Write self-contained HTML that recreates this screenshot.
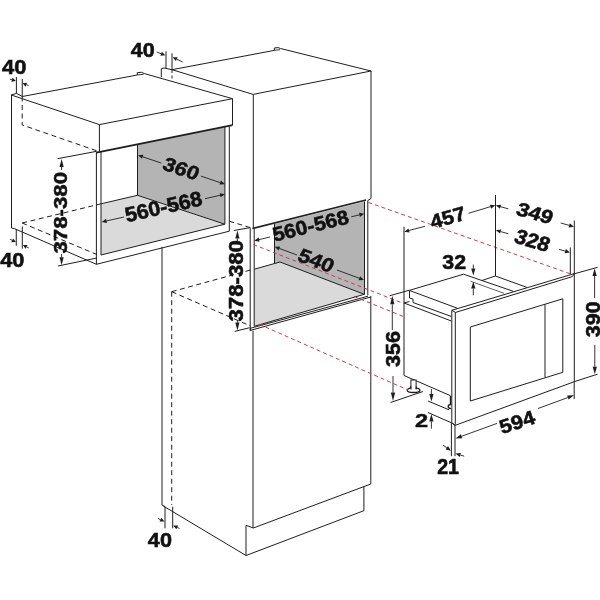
<!DOCTYPE html>
<html><head><meta charset="utf-8"><style>
html,body{margin:0;padding:0;background:#fff;}
svg{display:block;will-change:transform;}
text{font-family:"Liberation Sans",sans-serif;font-weight:bold;}
</style></head><body>
<svg width="600" height="600" viewBox="0 0 600 600">
<rect width="600" height="600" fill="#fff"/>
<polygon points="137.50,144.10 224.90,127.00 224.90,224.20 137.50,195.30" fill="#b4b4b4" stroke="none" stroke-width="0"/>
<polygon points="101.00,203.80 137.50,195.30 224.90,224.20 101.00,255.00" fill="#dadada" stroke="none" stroke-width="0"/>
<polyline points="11.30,95.00 16.50,93.40 22.30,96.50 137.30,75.00 137.30,72.60 141.50,72.30 144.20,73.50 232.50,98.70" fill="none" stroke="#1e1e1e" stroke-width="1.0"/>
<polyline points="137.30,74.90 143.60,74.30" fill="none" stroke="#1e1e1e" stroke-width="0.9"/>
<polyline points="11.30,95.00 99.40,124.60" fill="none" stroke="#1e1e1e" stroke-width="1.0"/>
<polyline points="99.40,124.60 232.50,98.70 232.50,125.00" fill="none" stroke="#1e1e1e" stroke-width="1.0"/>
<polyline points="99.40,124.60 99.40,152.30" fill="none" stroke="#1e1e1e" stroke-width="1.0"/>
<polyline points="96.40,152.60 232.50,125.20" fill="none" stroke="#1e1e1e" stroke-width="1.7"/>
<polyline points="11.50,95.00 11.50,228.00" fill="none" stroke="#1e1e1e" stroke-width="1.0"/>
<polyline points="96.40,152.00 96.40,264.30" fill="none" stroke="#1e1e1e" stroke-width="1.0"/>
<polyline points="101.00,151.50 101.00,255.00" fill="none" stroke="#1e1e1e" stroke-width="1.0"/>
<polyline points="224.90,127.00 224.90,224.20" fill="none" stroke="#1e1e1e" stroke-width="1.0"/>
<polyline points="229.30,126.30 229.30,231.20" fill="none" stroke="#1e1e1e" stroke-width="1.0"/>
<polyline points="137.50,144.10 137.50,195.30" fill="none" stroke="#1e1e1e" stroke-width="1.0"/>
<polyline points="101.00,203.80 137.50,195.30 224.90,224.20" fill="none" stroke="#1e1e1e" stroke-width="1.0"/>
<polyline points="101.00,255.00 224.90,224.20" fill="none" stroke="#1e1e1e" stroke-width="1.0"/>
<polyline points="11.50,228.00 14.60,228.70 96.40,264.30 229.30,231.20" fill="none" stroke="#1e1e1e" stroke-width="1.0"/>
<polyline points="22.20,96.50 22.20,125.00 96.70,150.80" fill="none" stroke="#1e1e1e" stroke-width="1.0" stroke-dasharray="5,3.5"/>
<polyline points="22.20,223.00 96.70,254.50" fill="none" stroke="#1e1e1e" stroke-width="1.0" stroke-dasharray="5,3.5"/>
<polyline points="22.20,223.00 101.00,203.80" fill="none" stroke="#1e1e1e" stroke-width="1.0" stroke-dasharray="5,3.5"/>
<polyline points="229.20,221.20 250.00,227.50" fill="none" stroke="#1e1e1e" stroke-width="1.0" stroke-dasharray="5,3.5"/>
<polygon points="274.50,224.00 364.50,201.50 364.50,294.50 280.00,262.00 274.50,263.50" fill="#b4b4b4" stroke="none" stroke-width="0"/>
<polygon points="254.20,269.20 280.00,262.00 364.30,294.30 254.30,326.25" fill="#dadada" stroke="none" stroke-width="0"/>
<polyline points="161.30,77.30 161.30,68.70 164.00,68.00 172.00,69.70 274.30,50.40 274.30,48.00 278.00,47.60 280.50,48.50 371.00,71.00" fill="none" stroke="#1e1e1e" stroke-width="1.0"/>
<polyline points="274.30,50.30 280.00,49.70" fill="none" stroke="#1e1e1e" stroke-width="0.9"/>
<polyline points="172.00,69.70 172.00,70.00" fill="none" stroke="#1e1e1e" stroke-width="1.0"/>
<polyline points="172.00,69.70 253.10,94.40 371.00,71.00 371.00,198.50 367.80,200.50" fill="none" stroke="#1e1e1e" stroke-width="1.0"/>
<polyline points="253.30,94.40 253.30,228.30" fill="none" stroke="#1e1e1e" stroke-width="1.0"/>
<polyline points="254.20,228.30 254.20,326.30" fill="none" stroke="#1e1e1e" stroke-width="1.0"/>
<polyline points="253.00,330.60 253.00,528.00" fill="none" stroke="#1e1e1e" stroke-width="1.0"/>
<polyline points="162.00,246.80 162.00,505.00" fill="none" stroke="#1e1e1e" stroke-width="1.0"/>
<polyline points="252.50,228.50 366.00,200.00" fill="none" stroke="#1e1e1e" stroke-width="1.6"/>
<polyline points="250.20,227.50 250.20,330.80" fill="none" stroke="#1e1e1e" stroke-width="1.0"/>
<polyline points="364.50,201.50 364.50,294.50" fill="none" stroke="#1e1e1e" stroke-width="1.0"/>
<polyline points="367.80,200.50 367.80,295.30" fill="none" stroke="#1e1e1e" stroke-width="1.0"/>
<polyline points="274.50,224.00 274.50,263.50" fill="none" stroke="#1e1e1e" stroke-width="1.0"/>
<polyline points="254.20,269.20 280.00,262.00 364.30,294.30" fill="none" stroke="#1e1e1e" stroke-width="1.0"/>
<polyline points="254.30,326.25 364.30,294.30" fill="none" stroke="#1e1e1e" stroke-width="1.0"/>
<polyline points="250.40,328.30 368.00,296.20" fill="none" stroke="#1e1e1e" stroke-width="1.0"/>
<polyline points="250.40,330.40 370.80,297.00" fill="none" stroke="#1e1e1e" stroke-width="1.0"/>
<polyline points="250.40,327.60 250.40,330.80" fill="none" stroke="#1e1e1e" stroke-width="1.0"/>
<polyline points="370.80,296.00 370.80,484.00" fill="none" stroke="#1e1e1e" stroke-width="1.0"/>
<polyline points="162.00,505.00 165.00,506.50" fill="none" stroke="#1e1e1e" stroke-width="1.0"/>
<polyline points="163.30,506.00 246.00,555.50" fill="none" stroke="#1e1e1e" stroke-width="1.0"/>
<polyline points="246.00,525.30 246.00,555.50 363.90,510.70 363.90,486.60" fill="none" stroke="#1e1e1e" stroke-width="1.0"/>
<polyline points="246.00,525.30 253.30,528.00 370.80,484.00" fill="none" stroke="#1e1e1e" stroke-width="1.0"/>
<polyline points="171.70,291.70 171.70,505.00" fill="none" stroke="#1e1e1e" stroke-width="1.0" stroke-dasharray="5,3.5"/>
<polyline points="171.70,291.70 250.60,270.00" fill="none" stroke="#1e1e1e" stroke-width="1.0" stroke-dasharray="5,3.5"/>
<polyline points="171.70,291.70 250.60,326.00" fill="none" stroke="#1e1e1e" stroke-width="1.0" stroke-dasharray="5,3.5"/>
<polyline points="172.00,70.00 172.00,80.70" fill="none" stroke="#1e1e1e" stroke-width="1.0" stroke-dasharray="3,2.5"/>
<polyline points="451.80,310.30 574.30,273.60" fill="none" stroke="#1e1e1e" stroke-width="1.0"/>
<polyline points="455.30,312.50 572.30,276.60" fill="none" stroke="#1e1e1e" stroke-width="1.0"/>
<polyline points="451.80,310.30 455.30,312.30" fill="none" stroke="#1e1e1e" stroke-width="1.0"/>
<polyline points="574.30,273.60 572.30,276.60" fill="none" stroke="#1e1e1e" stroke-width="1.0"/>
<polyline points="451.80,310.30 451.80,424.00" fill="none" stroke="#1e1e1e" stroke-width="1.0"/>
<polyline points="455.30,312.30 455.30,424.50" fill="none" stroke="#1e1e1e" stroke-width="1.0"/>
<polyline points="574.30,273.60 574.30,381.70" fill="none" stroke="#1e1e1e" stroke-width="1.0"/>
<polyline points="455.30,425.30 574.30,381.70" fill="none" stroke="#1e1e1e" stroke-width="1.0"/>
<polyline points="451.80,423.00 455.30,425.30" fill="none" stroke="#1e1e1e" stroke-width="1.0"/>
<polyline points="470.30,327.00 562.80,298.80 562.80,372.30 470.30,401.00 470.30,327.00" fill="none" stroke="#1e1e1e" stroke-width="1.0"/>
<polyline points="545.00,304.30 545.00,377.50" fill="none" stroke="#1e1e1e" stroke-width="1.0"/>
<polyline points="404.00,303.00 404.00,375.50 450.50,395.70" fill="none" stroke="#1e1e1e" stroke-width="1.0"/>
<polyline points="404.00,303.00 451.40,321.00" fill="none" stroke="#1e1e1e" stroke-width="1.0"/>
<polyline points="404.00,303.00 409.50,301.50" fill="none" stroke="#1e1e1e" stroke-width="1.0"/>
<polyline points="409.30,290.40 463.50,274.20 513.30,291.30" fill="none" stroke="#1e1e1e" stroke-width="1.0"/>
<polyline points="409.80,290.60 457.50,308.30" fill="none" stroke="#1e1e1e" stroke-width="1.0"/>
<polyline points="409.50,290.50 409.50,298.00 413.00,299.00 413.00,302.50 451.40,316.50" fill="none" stroke="#1e1e1e" stroke-width="1.0"/>
<polyline points="495.30,276.00 482.00,280.50" fill="none" stroke="#1e1e1e" stroke-width="1.0"/>
<polyline points="495.30,276.00 526.70,287.30" fill="none" stroke="#1e1e1e" stroke-width="1.0"/>
<polyline points="470.70,281.30 504.00,293.30" fill="none" stroke="#1e1e1e" stroke-width="0.7"/>
<rect x="410.9" y="380" width="5.2" height="9.5" fill="#fff" stroke="#1e1e1e" stroke-width="1"/>
<ellipse cx="413.6" cy="390.2" rx="6.3" ry="2.3" fill="#fff" stroke="#1e1e1e" stroke-width="1.4"/>
<rect x="411.4" y="386" width="4.2" height="3.4" fill="#fff"/>
<polyline points="410.90,386.00 410.90,389.50" fill="none" stroke="#1e1e1e" stroke-width="1"/>
<polyline points="416.10,386.00 416.10,389.50" fill="none" stroke="#1e1e1e" stroke-width="1"/>
<polyline points="450.50,396.00 450.50,408.50" fill="none" stroke="#1e1e1e" stroke-width="1.4"/>
<path d="M451.2,404.5 A2.8,1.9 0 1,0 451.2,408.6" fill="#fff" stroke="#1e1e1e" stroke-width="1.3"/>
<polyline points="368.30,202.40 570.00,273.70" fill="none" stroke="#cf3b50" stroke-width="1" stroke-dasharray="4,3"/>
<polyline points="253.30,244.50 403.60,303.50" fill="none" stroke="#cf3b50" stroke-width="1" stroke-dasharray="4,3"/>
<polyline points="354.00,296.50 403.60,316.60" fill="none" stroke="#cf3b50" stroke-width="1" stroke-dasharray="4,3"/>
<polyline points="259.00,324.20 408.00,390.00" fill="none" stroke="#cf3b50" stroke-width="1" stroke-dasharray="4,3"/>
<polyline points="16.40,77.00 16.40,93.40" fill="none" stroke="#1e1e1e" stroke-width="1.0"/>
<polyline points="22.25,79.00 22.25,96.50" fill="none" stroke="#1e1e1e" stroke-width="1.0"/>
<line x1="10.00" y1="79.20" x2="11.98" y2="79.81" stroke="#1e1e1e" stroke-width="0.9"/>
<polygon points="15.80,81.00 11.36,81.82 12.60,77.81" fill="#1e1e1e"/>
<line x1="28.50" y1="85.50" x2="26.35" y2="84.70" stroke="#1e1e1e" stroke-width="0.9"/>
<polygon points="22.60,83.30 27.08,82.73 25.61,86.67" fill="#1e1e1e"/>
<text transform="translate(13.90,67.25) rotate(0.00) skewX(0) scale(1.0386,1)" x="0.29" y="7.18" font-size="21.13" text-anchor="middle" fill="#111" stroke="#111" stroke-width="0.578">40</text>
<polyline points="16.25,229.00 16.25,245.80" fill="none" stroke="#1e1e1e" stroke-width="1.0"/>
<polyline points="22.30,226.50 22.30,248.70" fill="none" stroke="#1e1e1e" stroke-width="1.0"/>
<line x1="10.00" y1="239.20" x2="12.22" y2="240.31" stroke="#1e1e1e" stroke-width="0.9"/>
<polygon points="15.80,242.10 11.28,242.19 13.16,238.43" fill="#1e1e1e"/>
<line x1="28.75" y1="247.90" x2="26.48" y2="246.78" stroke="#1e1e1e" stroke-width="0.9"/>
<polygon points="22.90,245.00 27.42,244.90 25.55,248.66" fill="#1e1e1e"/>
<text transform="translate(12.00,260.20) rotate(0.00) skewX(0) scale(1.1008,1)" x="0.27" y="6.70" font-size="19.72" text-anchor="middle" fill="#111" stroke="#111" stroke-width="0.545">40</text>
<polyline points="166.00,51.30 166.00,68.00" fill="none" stroke="#1e1e1e" stroke-width="1.0"/>
<polyline points="172.00,53.30 172.00,70.00" fill="none" stroke="#1e1e1e" stroke-width="1.0"/>
<line x1="156.70" y1="52.00" x2="161.10" y2="53.69" stroke="#1e1e1e" stroke-width="0.9"/>
<polygon points="165.30,55.30 160.35,55.65 161.85,51.73" fill="#1e1e1e"/>
<line x1="182.70" y1="62.00" x2="176.77" y2="59.21" stroke="#1e1e1e" stroke-width="0.9"/>
<polygon points="172.70,57.30 177.67,57.31 175.88,61.11" fill="#1e1e1e"/>
<text transform="translate(142.35,50.00) rotate(0.00) skewX(0) scale(1.0912,1)" x="0.27" y="6.70" font-size="19.72" text-anchor="middle" fill="#111" stroke="#111" stroke-width="0.550">40</text>
<polyline points="165.00,506.70 165.00,528.30" fill="none" stroke="#1e1e1e" stroke-width="1.0"/>
<polyline points="172.70,506.70 172.70,528.30" fill="none" stroke="#1e1e1e" stroke-width="1.0"/>
<line x1="158.00" y1="518.50" x2="160.41" y2="519.61" stroke="#1e1e1e" stroke-width="0.9"/>
<polygon points="164.50,521.50 159.53,521.52 161.29,517.71" fill="#1e1e1e"/>
<line x1="179.50" y1="528.50" x2="177.26" y2="527.43" stroke="#1e1e1e" stroke-width="0.9"/>
<polygon points="173.20,525.50 178.17,525.54 176.36,529.33" fill="#1e1e1e"/>
<text transform="translate(159.60,540.30) rotate(0.00) skewX(0) scale(1.0806,1)" x="0.27" y="6.80" font-size="20.00" text-anchor="middle" fill="#111" stroke="#111" stroke-width="0.555">40</text>
<polyline points="57.50,158.70 96.70,151.30" fill="none" stroke="#1e1e1e" stroke-width="1.0"/>
<polyline points="58.00,266.00 96.70,258.00" fill="none" stroke="#1e1e1e" stroke-width="1.0"/>
<line x1="61.60" y1="170.00" x2="61.60" y2="167.00" stroke="#1e1e1e" stroke-width="0.9"/>
<polygon points="61.60,159.00 63.70,167.00 59.50,167.00" fill="#1e1e1e"/>
<line x1="61.60" y1="254.00" x2="61.60" y2="257.30" stroke="#1e1e1e" stroke-width="0.9"/>
<polygon points="61.60,265.30 59.50,257.30 63.70,257.30" fill="#1e1e1e"/>
<text transform="translate(60.40,212.90) rotate(-90.00) skewX(0) scale(1.1614,1)" x="0.14" y="6.51" font-size="19.15" text-anchor="middle" fill="#111" stroke="#111" stroke-width="0.517">378-380</text>
<line x1="161.40" y1="163.10" x2="142.74" y2="156.80" stroke="#1e1e1e" stroke-width="0.9"/>
<polygon points="138.00,155.20 143.41,154.81 142.07,158.79" fill="#1e1e1e"/>
<line x1="200.90" y1="176.10" x2="220.26" y2="182.61" stroke="#1e1e1e" stroke-width="0.9"/>
<polygon points="225.00,184.20 219.59,184.60 220.93,180.62" fill="#1e1e1e"/>
<text transform="translate(181.10,168.70) rotate(18.60) skewX(-5) scale(1.1255,1)" x="0.18" y="6.61" font-size="19.44" text-anchor="middle" fill="#111" stroke="#111" stroke-width="0.533">360</text>
<line x1="124.00" y1="217.00" x2="106.58" y2="220.91" stroke="#1e1e1e" stroke-width="0.9"/>
<polygon points="101.70,222.00 106.12,218.86 107.04,222.96" fill="#1e1e1e"/>
<line x1="205.00" y1="198.70" x2="220.12" y2="195.30" stroke="#1e1e1e" stroke-width="0.9"/>
<polygon points="225.00,194.20 220.58,197.35 219.66,193.25" fill="#1e1e1e"/>
<text transform="translate(163.50,206.75) rotate(-12.70) skewX(0) scale(1.0356,1)" x="-0.00" y="7.04" font-size="20.70" text-anchor="middle" fill="#111" stroke="#111" stroke-width="0.579">560-568</text>
<polyline points="233.80,230.50 249.40,227.75" fill="none" stroke="#1e1e1e" stroke-width="1.0"/>
<polyline points="234.70,331.40 249.40,327.75" fill="none" stroke="#1e1e1e" stroke-width="1.0"/>
<line x1="237.40" y1="241.00" x2="237.40" y2="238.60" stroke="#1e1e1e" stroke-width="0.9"/>
<polygon points="237.40,230.60 239.50,238.60 235.30,238.60" fill="#1e1e1e"/>
<line x1="237.40" y1="320.00" x2="237.40" y2="322.60" stroke="#1e1e1e" stroke-width="0.9"/>
<polygon points="237.40,330.60 235.30,322.60 239.50,322.60" fill="#1e1e1e"/>
<text transform="translate(236.10,280.95) rotate(-90.00) skewX(0) scale(1.0805,1)" x="0.15" y="6.99" font-size="20.56" text-anchor="middle" fill="#111" stroke="#111" stroke-width="0.555">378-380</text>
<line x1="270.00" y1="237.00" x2="259.06" y2="239.63" stroke="#1e1e1e" stroke-width="0.9"/>
<polygon points="254.20,240.80 258.57,237.59 259.55,241.67" fill="#1e1e1e"/>
<line x1="351.20" y1="216.80" x2="359.43" y2="214.92" stroke="#1e1e1e" stroke-width="0.9"/>
<polygon points="364.30,213.80 359.89,216.96 358.96,212.87" fill="#1e1e1e"/>
<text transform="translate(310.60,225.85) rotate(-13.70) skewX(0) scale(1.0609,1)" x="-0.00" y="6.80" font-size="20.00" text-anchor="middle" fill="#111" stroke="#111" stroke-width="0.566">560-568</text>
<line x1="297.00" y1="255.00" x2="279.39" y2="248.44" stroke="#1e1e1e" stroke-width="0.9"/>
<polygon points="274.70,246.70 280.12,246.48 278.65,250.41" fill="#1e1e1e"/>
<line x1="337.00" y1="270.00" x2="359.31" y2="278.26" stroke="#1e1e1e" stroke-width="0.9"/>
<polygon points="364.00,280.00 358.58,280.23 360.04,276.29" fill="#1e1e1e"/>
<text transform="translate(316.00,260.50) rotate(20.50) skewX(-5) scale(1.1177,1)" x="0.14" y="6.66" font-size="19.58" text-anchor="middle" fill="#111" stroke="#111" stroke-width="0.537">540</text>
<polyline points="389.60,295.80 409.30,290.20" fill="none" stroke="#1e1e1e" stroke-width="1.0"/>
<polyline points="390.50,402.50 423.00,391.50" fill="none" stroke="#1e1e1e" stroke-width="1.0"/>
<line x1="392.30" y1="330.00" x2="392.30" y2="304.30" stroke="#1e1e1e" stroke-width="0.9"/>
<polygon points="392.30,295.80 394.40,304.30 390.20,304.30" fill="#1e1e1e"/>
<line x1="393.00" y1="376.00" x2="393.00" y2="392.50" stroke="#1e1e1e" stroke-width="0.9"/>
<polygon points="393.00,401.00 390.90,392.50 395.10,392.50" fill="#1e1e1e"/>
<text transform="translate(393.05,349.20) rotate(-90.00) skewX(0) scale(1.0423,1)" x="0.14" y="6.99" font-size="20.56" text-anchor="middle" fill="#111" stroke="#111" stroke-width="0.576">356</text>
<polyline points="404.00,226.70 404.00,303.00" fill="none" stroke="#1e1e1e" stroke-width="1.0"/>
<polyline points="495.50,195.00 495.50,276.00" fill="none" stroke="#1e1e1e" stroke-width="1.0"/>
<line x1="425.00" y1="226.30" x2="409.04" y2="230.44" stroke="#1e1e1e" stroke-width="0.9"/>
<polygon points="404.20,231.70 408.51,228.41 409.57,232.48" fill="#1e1e1e"/>
<line x1="468.50" y1="213.30" x2="490.51" y2="206.65" stroke="#1e1e1e" stroke-width="0.9"/>
<polygon points="495.30,205.20 491.12,208.66 489.91,204.64" fill="#1e1e1e"/>
<text transform="translate(447.50,217.75) rotate(-16.10) skewX(0) scale(1.0870,1)" x="0.34" y="6.70" font-size="19.72" text-anchor="middle" fill="#111" stroke="#111" stroke-width="0.552">457</text>
<polyline points="574.30,220.50 574.30,274.20" fill="none" stroke="#1e1e1e" stroke-width="1.0"/>
<line x1="508.40" y1="208.90" x2="500.61" y2="206.67" stroke="#1e1e1e" stroke-width="0.9"/>
<polygon points="495.80,205.30 501.18,204.65 500.03,208.69" fill="#1e1e1e"/>
<line x1="560.70" y1="223.00" x2="569.18" y2="225.36" stroke="#1e1e1e" stroke-width="0.9"/>
<polygon points="574.00,226.70 568.62,227.38 569.75,223.34" fill="#1e1e1e"/>
<text transform="translate(534.80,213.30) rotate(15.70) skewX(-5) scale(1.1515,1)" x="0.13" y="6.51" font-size="19.15" text-anchor="middle" fill="#111" stroke="#111" stroke-width="0.521">349</text>
<polyline points="570.30,247.50 570.30,274.00" fill="none" stroke="#1e1e1e" stroke-width="1.0"/>
<line x1="508.40" y1="233.80" x2="500.61" y2="231.57" stroke="#1e1e1e" stroke-width="0.9"/>
<polygon points="495.80,230.20 501.18,229.55 500.03,233.59" fill="#1e1e1e"/>
<line x1="558.90" y1="249.30" x2="565.20" y2="251.11" stroke="#1e1e1e" stroke-width="0.9"/>
<polygon points="570.00,252.50 564.61,253.13 565.78,249.10" fill="#1e1e1e"/>
<text transform="translate(532.35,240.50) rotate(16.30) skewX(-5) scale(1.0330,1)" x="0.09" y="6.99" font-size="20.56" text-anchor="middle" fill="#111" stroke="#111" stroke-width="0.581">328</text>
<line x1="473.30" y1="264.60" x2="473.30" y2="268.50" stroke="#1e1e1e" stroke-width="0.9"/>
<polygon points="473.30,275.50 471.20,268.50 475.40,268.50" fill="#1e1e1e"/>
<line x1="473.30" y1="295.30" x2="473.30" y2="288.50" stroke="#1e1e1e" stroke-width="0.9"/>
<polygon points="473.30,281.50 475.40,288.50 471.20,288.50" fill="#1e1e1e"/>
<text transform="translate(453.95,262.20) rotate(0.00) skewX(0) scale(1.0822,1)" x="0.17" y="6.70" font-size="19.72" text-anchor="middle" fill="#111" stroke="#111" stroke-width="0.554">32</text>
<polyline points="574.30,273.80 597.70,267.30" fill="none" stroke="#1e1e1e" stroke-width="1.0"/>
<polyline points="574.20,381.70 597.50,374.20" fill="none" stroke="#1e1e1e" stroke-width="1.0"/>
<line x1="594.60" y1="298.00" x2="594.60" y2="275.90" stroke="#1e1e1e" stroke-width="0.9"/>
<polygon points="594.60,268.40 596.70,275.90 592.50,275.90" fill="#1e1e1e"/>
<line x1="594.80" y1="345.00" x2="594.80" y2="366.80" stroke="#1e1e1e" stroke-width="0.9"/>
<polygon points="594.80,374.30 592.70,366.80 596.90,366.80" fill="#1e1e1e"/>
<text transform="translate(593.00,319.50) rotate(-90.00) skewX(0) scale(1.0601,1)" x="0.19" y="6.90" font-size="20.28" text-anchor="middle" fill="#111" stroke="#111" stroke-width="0.566">390</text>
<polyline points="428.00,401.00 449.00,409.80" fill="none" stroke="#1e1e1e" stroke-width="1.0"/>
<polyline points="428.00,412.50 451.80,423.00 455.30,425.30" fill="none" stroke="#1e1e1e" stroke-width="1.0"/>
<line x1="431.40" y1="389.00" x2="431.40" y2="394.10" stroke="#1e1e1e" stroke-width="0.9"/>
<polygon points="431.40,401.60 429.30,394.10 433.50,394.10" fill="#1e1e1e"/>
<line x1="431.40" y1="428.70" x2="431.40" y2="421.50" stroke="#1e1e1e" stroke-width="0.9"/>
<polygon points="431.40,414.00 433.50,421.50 429.30,421.50" fill="#1e1e1e"/>
<text transform="translate(421.55,420.90) rotate(0.00) skewX(0) scale(1.2663,1)" x="0.06" y="6.32" font-size="18.59" text-anchor="middle" fill="#111" stroke="#111" stroke-width="0.474">2</text>
<polyline points="455.00,424.50 455.00,440.00" fill="none" stroke="#1e1e1e" stroke-width="1.0"/>
<polyline points="574.20,381.70 574.20,399.00" fill="none" stroke="#1e1e1e" stroke-width="1.0"/>
<line x1="497.00" y1="423.40" x2="461.61" y2="436.28" stroke="#1e1e1e" stroke-width="0.9"/>
<polygon points="455.50,438.50 460.89,434.30 462.33,438.25" fill="#1e1e1e"/>
<line x1="538.00" y1="408.50" x2="567.90" y2="397.54" stroke="#1e1e1e" stroke-width="0.9"/>
<polygon points="574.00,395.30 568.62,399.51 567.17,395.57" fill="#1e1e1e"/>
<text transform="translate(517.35,422.20) rotate(-18.20) skewX(0) scale(1.1014,1)" x="-0.21" y="6.70" font-size="19.72" text-anchor="middle" fill="#111" stroke="#111" stroke-width="0.545">594</text>
<polyline points="451.40,424.00 451.40,456.20" fill="none" stroke="#1e1e1e" stroke-width="1.0"/>
<polyline points="455.00,440.00 455.00,456.20" fill="none" stroke="#1e1e1e" stroke-width="1.0"/>
<line x1="443.10" y1="445.20" x2="446.81" y2="447.82" stroke="#1e1e1e" stroke-width="0.9"/>
<polygon points="450.90,450.70 445.60,449.53 448.02,446.10" fill="#1e1e1e"/>
<line x1="464.20" y1="456.20" x2="460.28" y2="454.98" stroke="#1e1e1e" stroke-width="0.9"/>
<polygon points="455.50,453.50 460.90,452.98 459.65,456.99" fill="#1e1e1e"/>
<text transform="translate(448.15,466.80) rotate(0.00) skewX(0) scale(0.9001,1)" x="-0.09" y="7.37" font-size="21.69" text-anchor="middle" fill="#111" stroke="#111" stroke-width="0.667">21</text>
</svg></body></html>
